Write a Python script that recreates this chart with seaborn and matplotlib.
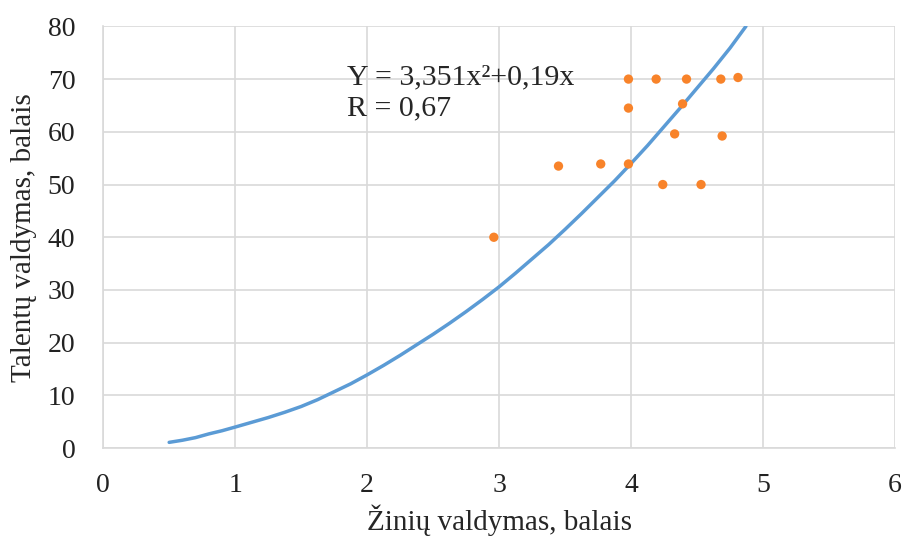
import numpy as np
import pandas as pd
import seaborn as sns
import matplotlib.pyplot as plt

# Scatter points
ziniu = [2.96, 3.45, 3.77, 3.98, 3.98, 3.98, 4.19, 4.42, 4.68, 4.81, 4.39, 4.33, 4.69, 4.24, 4.53]
talentu = [40.0, 53.5, 53.9, 53.9, 64.5, 70.0, 70.0, 70.0, 70.0, 70.3, 65.3, 59.6, 59.2, 50.0, 50.0]

# Trend curve points
curve_x = [0.5, 0.55, 0.6, 0.7, 0.8, 0.9, 1.0, 1.125, 1.25, 1.375, 1.5, 1.625, 1.75, 1.875, 2.0,
           2.125, 2.25, 2.375, 2.5, 2.625, 2.75, 2.875, 3.0, 3.125, 3.25, 3.375, 3.5, 3.625,
           3.75, 3.875, 4.0, 4.125, 4.25, 4.375, 4.5, 4.625, 4.75, 4.87]
curve_y = [1.1, 1.3, 1.5, 2.0, 2.7, 3.3, 4.0, 4.9, 5.8, 6.8, 7.9, 9.2, 10.7, 12.2, 13.9,
           15.7, 17.6, 19.6, 21.6, 23.7, 25.9, 28.2, 30.6, 33.2, 35.9, 38.6, 41.5, 44.5,
           47.6, 50.7, 54.0, 57.4, 61.0, 64.6, 68.3, 72.0, 75.9, 80.0]

pts = pd.DataFrame({'x': ziniu, 'y': talentu})
trend = pd.DataFrame({'x': curve_x, 'y': curve_y})

sns.set_style('whitegrid')
plt.rcParams['font.family'] = ['Liberation Serif', 'DejaVu Serif']

fig = plt.figure(figsize=(9.05, 5.38), dpi=100)
ax = fig.add_axes([0.114, 0.167, 0.875, 0.784])

sns.lineplot(data=trend, x='x', y='y', ax=ax, color='#5b9bd5', linewidth=2.5, sort=False)
sns.scatterplot(data=pts, x='x', y='y', ax=ax, color='#f8832a', s=45, marker='o', edgecolor='none', zorder=3)

ax.set_xlim(0, 6)
ax.set_ylim(0, 80)
ax.set_xticks(range(0, 7))
ax.set_yticks(range(0, 81, 10))
ax.grid(True, color='#d9d9d9', linewidth=1.2)
for s in ['top', 'right']:
    ax.spines[s].set_visible(False)
for s in ['left', 'bottom']:
    ax.spines[s].set_color('#d9d9d9')
    ax.spines[s].set_linewidth(1.2)
ax.tick_params(axis='x', length=0, pad=18, labelsize=20, colors='#222222')
ax.tick_params(axis='y', length=0, pad=20, labelsize=20, colors='#222222')

ax.set_xlabel('Žinių valdymas, balais', fontsize=21)
ax.set_ylabel('Talentų valdymas, balais', fontsize=21)
ax.xaxis.set_label_coords(0.5, -0.134)
ax.yaxis.set_label_coords(-0.084, 0.5)

ax.text(1.85, 70.4, 'Y = 3,351x²+0,19x', fontsize=21.5, va='center', ha='left')
ax.text(1.85, 64.5, 'R = 0,67', fontsize=21.5, va='center', ha='left')

fig.savefig('out.png', dpi=100)
